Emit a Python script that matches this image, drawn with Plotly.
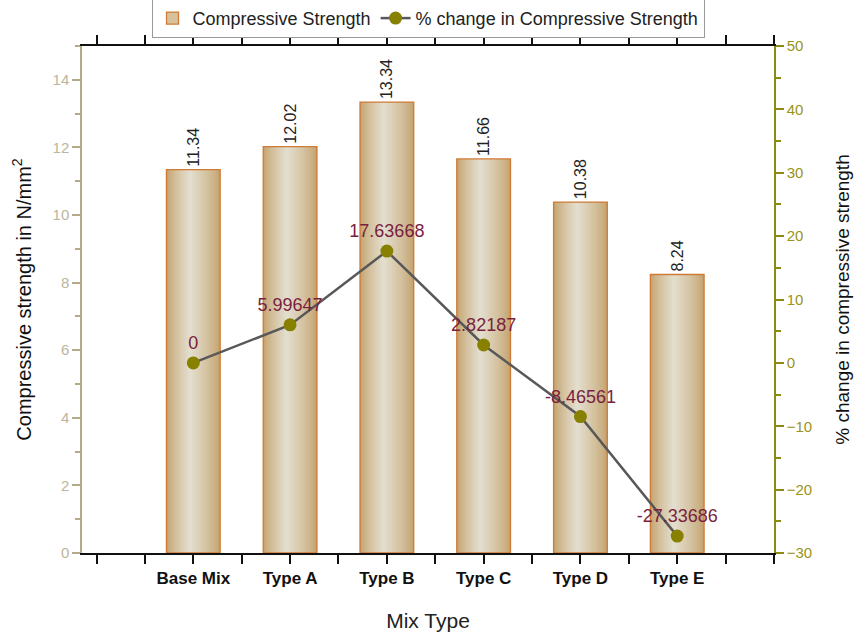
import plotly.graph_objects as go

# ---- data ----
mix_types = ["Base Mix", "Type A", "Type B", "Type C", "Type D", "Type E"]
compressive_strength = [11.34, 12.02, 13.34, 11.66, 10.38, 8.24]
pct_change = [0, 5.99647, 17.63668, 2.82187, -8.46561, -27.33686]

strength_labels = [f"{v:.2f}" for v in compressive_strength]
pct_labels = [str(v) for v in pct_change]

x_pos = list(range(len(mix_types)))

BAR_W = 0.555
FONT = "Liberation Sans, Arial, sans-serif"


def blend(c1, c2, t):
    a = [int(c1[i:i + 2], 16) for i in (1, 3, 5)]
    b = [int(c2[i:i + 2], 16) for i in (1, 3, 5)]
    return "#" + "".join(f"{round(x + (y - x) * t):02x}" for x, y in zip(a, b))


fig = go.Figure()

# Cylinder-like shading: overlaid bars, narrower and lighter toward the centre
EDGE_COL = "#c5a470"
CENTRE_COL = "#e2ddcc"
n_layers = 14
for i in range(n_layers):
    frac = 1 - i / n_layers
    t = (i / (n_layers - 1)) ** 0.8
    col = blend(EDGE_COL, CENTRE_COL, t)
    outer = i == 0
    shift = 0 if outer else -0.035 * (i / n_layers)
    fig.add_trace(go.Bar(
        x=x_pos,
        y=compressive_strength,
        width=BAR_W * frac,
        offset=-BAR_W * frac / 2 + shift,
        marker=dict(color=col, line=dict(width=0)),
        name="Compressive Strength",
        showlegend=False,
        hoverinfo="skip",
        yaxis="y",
    ))

# outline, value labels
fig.add_trace(go.Bar(
    x=x_pos, y=compressive_strength, width=BAR_W,
    name="Compressive Strength",
    marker=dict(color="rgba(0,0,0,0)", line=dict(color="#cf7a35", width=1.3)),
    text=strength_labels,
    textposition="outside",
    textangle=-90,
    textfont=dict(family=FONT, size=16, color="#222222"),
    cliponaxis=False,
    showlegend=False,
    yaxis="y",
))

# legend swatch for the bars
fig.add_trace(go.Bar(
    x=[None], y=[None],
    name="Compressive Strength",
    marker=dict(color="#d6c29a", line=dict(color="#cf7a35", width=1.3)),
    showlegend=True,
    yaxis="y",
))

fig.add_trace(go.Scatter(
    x=x_pos,
    y=pct_change,
    mode="lines+markers+text",
    name="% change in Compressive Strength",
    line=dict(color="#585858", width=2.5),
    marker=dict(color="#878000", size=13),
    text=pct_labels,
    textposition="top center",
    textfont=dict(family=FONT, size=18, color="#7a1f3f"),
    cliponaxis=False,
    yaxis="y2",
))

fig.update_layout(
    width=854,
    height=637,
    margin=dict(l=82, r=80, t=46, b=84, autoexpand=False),
    paper_bgcolor="white",
    plot_bgcolor="white",
    barmode="overlay",
    font=dict(family=FONT, size=15, color="#222222"),
    showlegend=True,
    legend=dict(
        orientation="h",
        x=0.5, xanchor="center",
        y=1.016, yanchor="bottom",
        bordercolor="#9a9a9a", borderwidth=1,
        bgcolor="white",
        font=dict(family=FONT, size=18, color="#222222"),
        tracegroupgap=0,
    ),
    xaxis=dict(
        range=[-1.15, 6],
        tickmode="array",
        tickvals=x_pos,
        ticktext=mix_types,
        tickfont=dict(family=FONT, size=17, color="#111111", weight="bold"),
        ticks="outside", ticklen=9, tickcolor="#111111", tickwidth=1.5,
        minor=dict(tickmode="array", tickvals=[-1, -0.5, 0.5, 1.5, 2.5, 3.5, 4.5, 5.5, 6],
                   ticks="outside", ticklen=9, tickcolor="#111111", tickwidth=1.5),
        showline=True, linecolor="#111111", linewidth=1.5,
        mirror="ticks",
        showgrid=False, zeroline=False,
        automargin=False,
        title=dict(text="Mix Type", font=dict(family=FONT, size=21, color="#222222"), standoff=26),
    ),
    yaxis=dict(
        range=[0, 15],
        tickvals=[0, 2, 4, 6, 8, 10, 12, 14],
        tickfont=dict(family=FONT, size=15, color="#bcb59c"),
        ticks="outside", ticklen=8, tickcolor="#b5aa88", tickwidth=1.5,
        minor=dict(tickvals=[1, 3, 5, 7, 9, 11, 13, 15], ticks="outside", ticklen=5,
                   tickcolor="#b5aa88", tickwidth=1.5),
        showline=True, linecolor="#b5aa88", linewidth=1.5,
        showgrid=False, zeroline=False,
        automargin=False,
        title=dict(text="Compressive strength in N/mm<sup>2</sup>",
                   font=dict(family=FONT, size=20, color="#111111"), standoff=16),
    ),
    yaxis2=dict(
        range=[-30, 50],
        overlaying="y",
        side="right",
        tickvals=[-30, -20, -10, 0, 10, 20, 30, 40, 50],
        ticktext=["\u221230", "\u221220", "\u221210", "0", "10", "20", "30", "40", "50"],
        tickfont=dict(family=FONT, size=15, color="#9a9418"),
        ticks="outside", ticklen=8, tickcolor="#8c8a10", tickwidth=1.5,
        minor=dict(tickvals=[-25, -15, -5, 5, 15, 25, 35, 45], ticks="outside", ticklen=5,
                   tickcolor="#8c8a10", tickwidth=1.5),
        showline=True, linecolor="#8c8a10", linewidth=1.5,
        showgrid=False, zeroline=False,
        automargin=False,
        title=dict(text="% change in compressive strength",
                   font=dict(family=FONT, size=19, color="#111111"), standoff=24),
    ),
)

fig.write_html("out.html")
